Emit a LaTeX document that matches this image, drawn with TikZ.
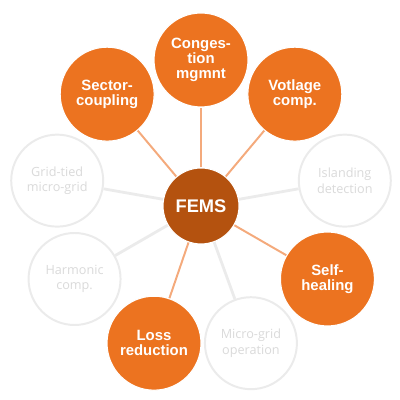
\documentclass[tikz,border=0pt]{standalone}
\usepackage{fontspec}
\setmainfont{Liberation Sans}
\newfontfamily\ghostfont{Open Sans}
\usepackage{xcolor}

\definecolor{femsorange}{HTML}{EC7320}
\definecolor{femsbrown}{HTML}{B4520F}
\definecolor{linkorange}{HTML}{F4AA7C}
\definecolor{ghostline}{HTML}{EBEBEB}
\definecolor{ghosttext}{HTML}{DADADA}

\tikzset{
  hub/.style={circle, fill=femsbrown, draw=white, line width=0.8pt, minimum size=1.9cm,
    text=white, font=\fontsize{13}{13}\selectfont\bfseries},
  task/.style={circle, fill=femsorange, draw=white, line width=0.8pt, minimum size=2.35cm,
    text=white, align=center, font=\fontsize{10.6}{10.8}\selectfont\bfseries},
  ghost/.style={circle, fill=white, draw=ghostline, line width=1.4pt, minimum size=2.3cm,
    text=ghosttext, align=center, font=\ghostfont\fontsize{9}{11}\selectfont},
  tasklink/.style={draw=linkorange, line width=1.4pt},
  ghostlink/.style={draw=ghostline, line width=2pt}
}

\begin{document}
\begin{tikzpicture}
\useasboundingbox (0,0) rectangle (10,10);
% centre
\node[hub] (fems) at (5.025,4.85) {FEMS};
% ring of functions
\node[task] (cong) at (5.025,8.50) {Conges-\\tion\\mgmnt};
\node[task] (volt) at (7.371,7.646) {Votlage\\comp.};
\node[ghost] (island) at (8.620,5.484) {Islanding\\detection};
\node[task] (heal) at (8.186,3.025) {Self-\\healing};
\node[ghost] (mgop) at (6.273,1.420) {Micro-grid\\operation};
\node[task] (loss) at (3.850,1.420) {Loss\\reduction};
\node[ghost] (harm) at (1.864,3.025) {Harmonic\\comp.};
\node[ghost] (gtied) at (1.430,5.484) {Grid-tied\\micro-grid};
\node[task] (sect) at (2.679,7.646) {Sector-\\coupling};
% spokes
\draw[tasklink] (fems) -- (cong);
\draw[tasklink] (fems) -- (volt);
\draw[ghostlink] (fems) -- (island);
\draw[tasklink] (fems) -- (heal);
\draw[ghostlink] (fems) -- (mgop);
\draw[tasklink] (fems) -- (loss);
\draw[ghostlink] (fems) -- (harm);
\draw[ghostlink] (fems) -- (gtied);
\draw[tasklink] (fems) -- (sect);
\end{tikzpicture}
\end{document}
